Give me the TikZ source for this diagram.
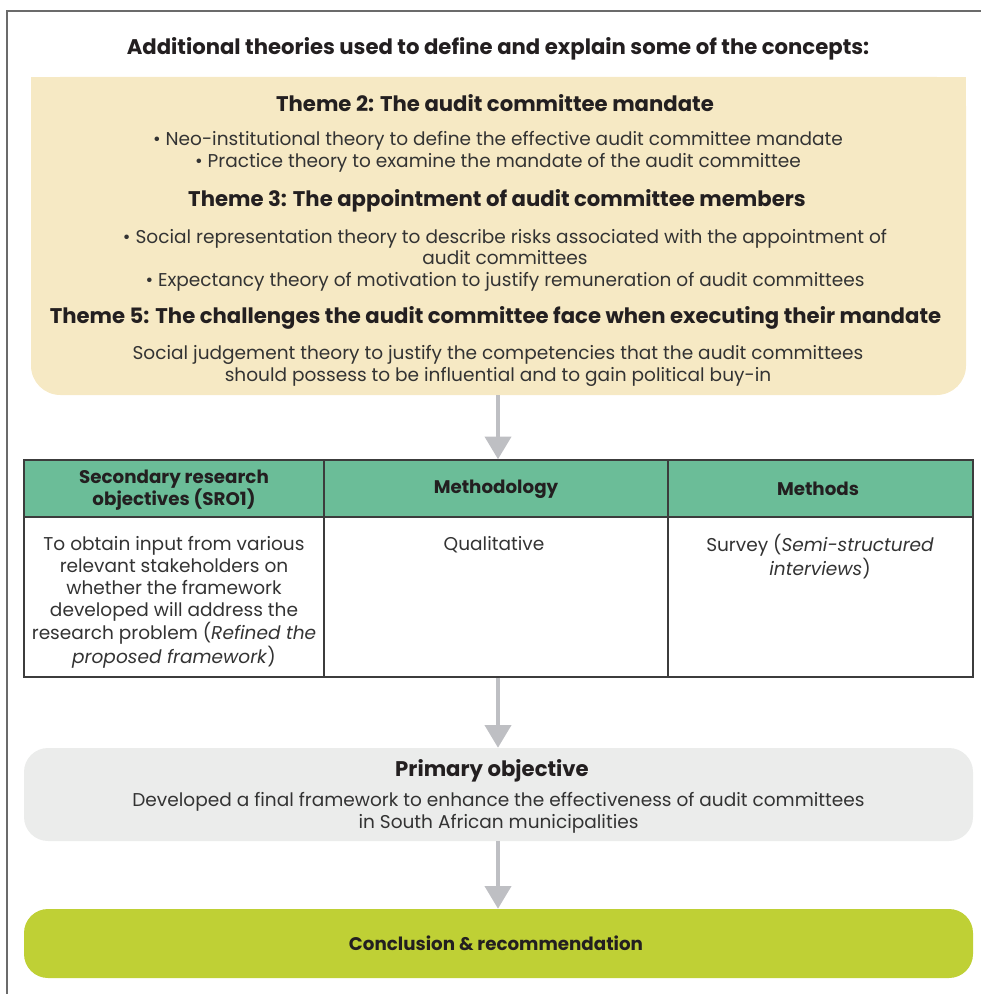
\documentclass[tikz,border=0pt]{standalone}
\usepackage{fontspec}
\setmainfont{Poppins}
\usetikzlibrary{arrows.meta}

\definecolor{framec}{HTML}{6B6B6B}
\definecolor{themefill}{HTML}{F6E9C4}
\definecolor{hdrfill}{HTML}{6BBD98}
\definecolor{gridc}{HTML}{3C3C3C}
\definecolor{primfill}{HTML}{EBECEB}
\definecolor{conclfill}{HTML}{BFD035}
\definecolor{arrowc}{HTML}{BEBFC3}
\definecolor{inkc}{HTML}{231F20}
\definecolor{bodyc}{HTML}{333333}

\tikzset{
  boldtxt/.style={inner sep=0pt, text=inkc, font=\fontsize{15.9}{16.5}\selectfont\bfseries, align=center},
  hdrtxt/.style={inner sep=0pt, text=inkc, font=\fontsize{13.7}{16.5}\selectfont\bfseries, align=center},
  bodytxt/.style={inner sep=0pt, text=bodyc, font=\fontsize{13.9}{16.2}\selectfont, align=center},
  cellbody/.style={inner sep=0pt, text=bodyc, font=\fontsize{13.9}{16.5}\selectfont, align=center, anchor=north},
  hdrcell/.style={draw=gridc, line width=1.1pt, fill=hdrfill, inner sep=0pt},
  bodycell/.style={draw=gridc, line width=1.1pt, fill=white, inner sep=0pt},
  panel/.style={inner sep=0pt, draw=none},
  flow/.style={draw=arrowc, line width=3pt, -{Triangle[width=19.5pt,length=17pt]}},
}

\begin{document}
\begin{tikzpicture}[x=0.75pt,y=-0.75pt]
\useasboundingbox (0,0) rectangle (981,994);

% open page frame
\draw[framec, line width=1pt] (7,994) -- (7,11) -- (981,11);

% theme panel: square top, rounded bottom
\fill[themefill, rounded corners=22pt] (31,77) rectangle (966,395);
\fill[themefill] (31,77) rectangle (966,200);
\node[panel, minimum width=701pt, minimum height=238.5pt] (themes) at (498.5,236) {};

\node[boldtxt] (title) at (498,49) {Additional theories used to define and explain some of the concepts:};

\node[boldtxt] (t2h) at (495,103) {Theme 2: The audit committee mandate};
\node[bodytxt] (t2b) at (498,152) {• Neo-institutional theory to define the effective audit committee mandate\\
• Practice theory to examine the mandate of the audit committee};

\node[boldtxt] (t3h) at (497,200.5) {Theme 3: The appointment of audit committee members};
\node[bodytxt] (t3b) at (505,260) {• Social representation theory to describe risks associated with the appointment of\\
audit committees\\
• Expectancy theory of motivation to justify remuneration of audit committees};

\node[boldtxt] (t5h) at (495.5,317.5) {Theme 5: The challenges the audit committee face when executing their mandate};
\node[bodytxt] (t5b) at (498,366) {Social judgement theory to justify the competencies that the audit committees\\
should possess to be influential and to gain political buy-in};

% table: header row
\node[hdrcell, minimum width=225pt, minimum height=42.75pt] (h1) at (174,488.5) {};
\node[hdrcell, minimum width=258pt, minimum height=42.75pt] (h2) at (496,488.5) {};
\node[hdrcell, minimum width=228.75pt, minimum height=42.75pt] (h3) at (820.5,488.5) {};
% table: body row
\node[bodycell, minimum width=225pt, minimum height=120pt] (b1) at (174,597) {};
\node[bodycell, minimum width=258pt, minimum height=120pt] (b2) at (496,597) {};
\node[bodycell, minimum width=228.75pt, minimum height=120pt] (b3) at (820.5,597) {};

\node[hdrtxt] (h1t) at (174,490) {Secondary research\\objectives (SRO1)};
\node[hdrtxt] (h2t) at (496,489.5) {Methodology};
\node[hdrtxt] (h3t) at (818,489) {Methods};

\node[cellbody] (b1t) at (174,536) {To obtain input from various\\
relevant stakeholders on\\
whether the framework\\
developed will address the\\
research problem (\textit{Refined the}\\
\textit{proposed framework})};
\node[cellbody] (b2t) at (494,536.5) {Qualitative};
\node[cellbody] (b3t) at (820,534) {Survey (\textit{Semi-structured}\\
\textit{interviews})};

% primary objective panel
\node[panel, fill=primfill, rounded corners=18pt, minimum width=711.75pt, minimum height=69.75pt] (prim) at (498.5,794.5) {};
\node[boldtxt] (primh) at (492,770.5) {Primary objective};
\node[bodytxt] (primb) at (498.5,813) {Developed a final framework to enhance the effectiveness of audit committees\\
in South African municipalities};

% conclusion panel
\node[panel, fill=conclfill, rounded corners=18pt, minimum width=711.75pt, minimum height=51.75pt] (concl) at (498.5,943.5) {};
\node[hdrtxt] (conclt) at (496,943) {Conclusion \& recommendation};

% flow arrows
\draw[flow] (themes.south -| 498,0) -- (h2.north -| 498,0);
\draw[flow] (b2.south -| 498,0) -- (prim.north -| 498,0);
\draw[flow] (prim.south -| 498,0) -- (concl.north -| 498,0);
\end{tikzpicture}
\end{document}
